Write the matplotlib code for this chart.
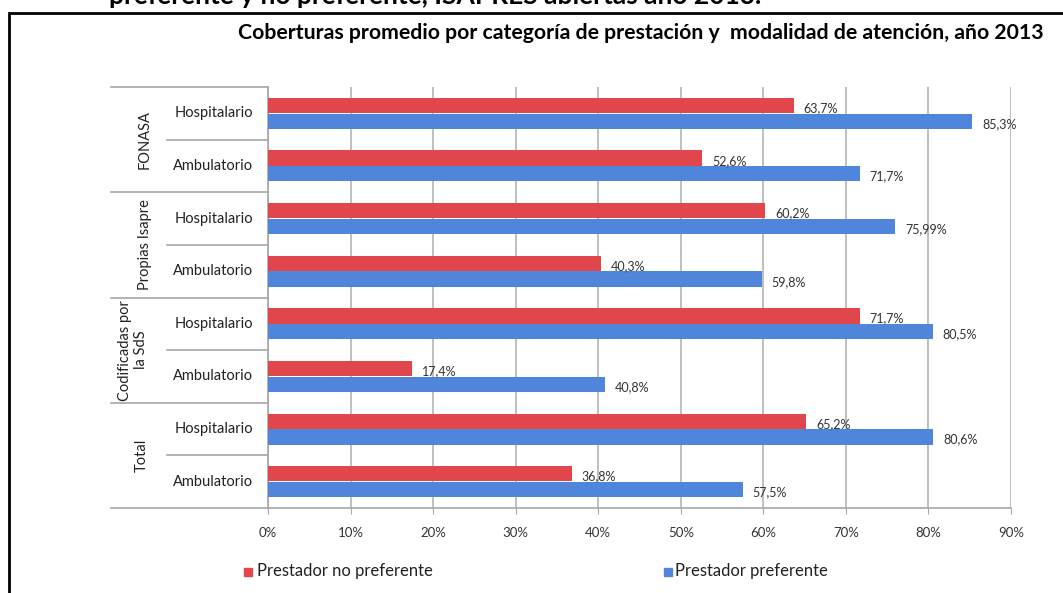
import matplotlib.pyplot as plt
from matplotlib.patches import Rectangle

# data
grupos = ["FONASA", "Propias Isapre", "Codificadas por\nla SdS", "Total"]
modalidades = ["Hospitalario", "Ambulatorio"] * 4
no_preferente = [63.7, 52.6, 60.2, 40.3, 71.7, 17.4, 65.2, 36.8]
preferente = [85.3, 71.7, 75.99, 59.8, 80.5, 40.8, 80.6, 57.5]
ticks_x = [0, 10, 20, 30, 40, 50, 60, 70, 80, 90]

plt.rcParams['font.family'] = ['Lato', 'DejaVu Sans']

W, H = 1063, 593
fig = plt.figure(figsize=(W / 100, H / 100), dpi=100)

# outer frame of the figure box
fig.patches.append(Rectangle((9 / W, -0.05), 1.2, (H - 13) / H + 0.05,
                             transform=fig.transFigure, fill=False,
                             edgecolor='black', lw=2))

# caption cut off at the very top
fig.text(435 / W, 1 + 4 / H, "preferente y no preferente, ISAPRES abiertas año 2013.",
         ha='center', va='center', fontsize=19, fontweight='bold')

fig.text(641 / W, 1 - 33 / H,
         "Coberturas promedio por categoría de prestación y  modalidad de atención, año 2013",
         ha='center', va='center', fontsize=15.3, fontweight='bold')

x0, x1, y0, y1 = 268, 1011, 87, 508
ax = fig.add_axes([x0 / W, 1 - y1 / H, (x1 - x0) / W, (y1 - y0) / H])

n = len(modalidades)
pos = list(range(n))
h = 0.29
red = '#E0464C'
blue = '#4F86DC'
ax.barh([p - 0.15 for p in pos], no_preferente, height=h, color=red, zorder=3)
ax.barh([p + 0.15 for p in pos], preferente, height=h, color=blue, zorder=3)


def fmt(v):
    return f"{v:g}".replace('.', ',') + '%'


for p, a, b in zip(pos, no_preferente, preferente):
    ax.text(a + 1.2, p - 0.1, fmt(a), va='center', ha='left', fontsize=9, color='#333333')
    ax.text(b + 1.2, p + 0.2, fmt(b), va='center', ha='left', fontsize=9, color='#333333')

ax.set_xlim(0, 90)
ax.set_ylim(n - 0.5, -0.5)
ax.set_xticks(ticks_x)
ax.set_xticklabels([f"{t}%" for t in ticks_x], fontsize=9.5, color='#333333')
ax.tick_params(axis='x', length=4, color='#A6A6A6', pad=10)
ax.set_yticks([])
ax.grid(axis='x', color='#BFBFBF', lw=1.4, zorder=0)
for s in ['top', 'right']:
    ax.spines[s].set_visible(False)
ax.spines['left'].set_color('#A6A6A6')
ax.spines['bottom'].set_color('#A6A6A6')
ax.spines['left'].set_linewidth(1.2)
ax.spines['bottom'].set_linewidth(1.2)

# multi-level category axis
tr = ax.get_yaxis_transform()
xg = (111 - x0) / (x1 - x0)
xs = (167 - x0) / (x1 - x0)
for k in range(0, n + 1, 2):
    ax.plot([xg, 0], [k - 0.5, k - 0.5], transform=tr, clip_on=False, color='#A6A6A6', lw=1.2)
for k in range(1, n, 2):
    ax.plot([xs, 0], [k - 0.5, k - 0.5], transform=tr, clip_on=False, color='#A6A6A6', lw=1.2)

xl = (253 - x0) / (x1 - x0)
for p, m in zip(pos, modalidades):
    ax.text(xl, p, m, transform=tr, ha='right', va='center', fontsize=10.5, color='#222222')

gx = [145, 145, 133, 142]
for i, g in enumerate(grupos):
    ax.text((gx[i] - x0) / (x1 - x0), 2 * i + 0.5, g, transform=tr, rotation=90,
            ha='center', va='center', fontsize=10.5, color='#222222', linespacing=1.1)

# legend
fig.patches.append(Rectangle((244 / W, 1 - 576 / H), 8 / W, 8 / H,
                             transform=fig.transFigure, color=red))
fig.text(257 / W, 1 - 571 / H, "Prestador no preferente", ha='left', va='center',
         fontsize=12, color='#222222')
fig.patches.append(Rectangle((664 / W, 1 - 576 / H), 8 / W, 8 / H,
                             transform=fig.transFigure, color=blue))
fig.text(675 / W, 1 - 571 / H, "Prestador preferente", ha='left', va='center',
         fontsize=12, color='#222222')

fig.savefig('out.png', dpi=100)
